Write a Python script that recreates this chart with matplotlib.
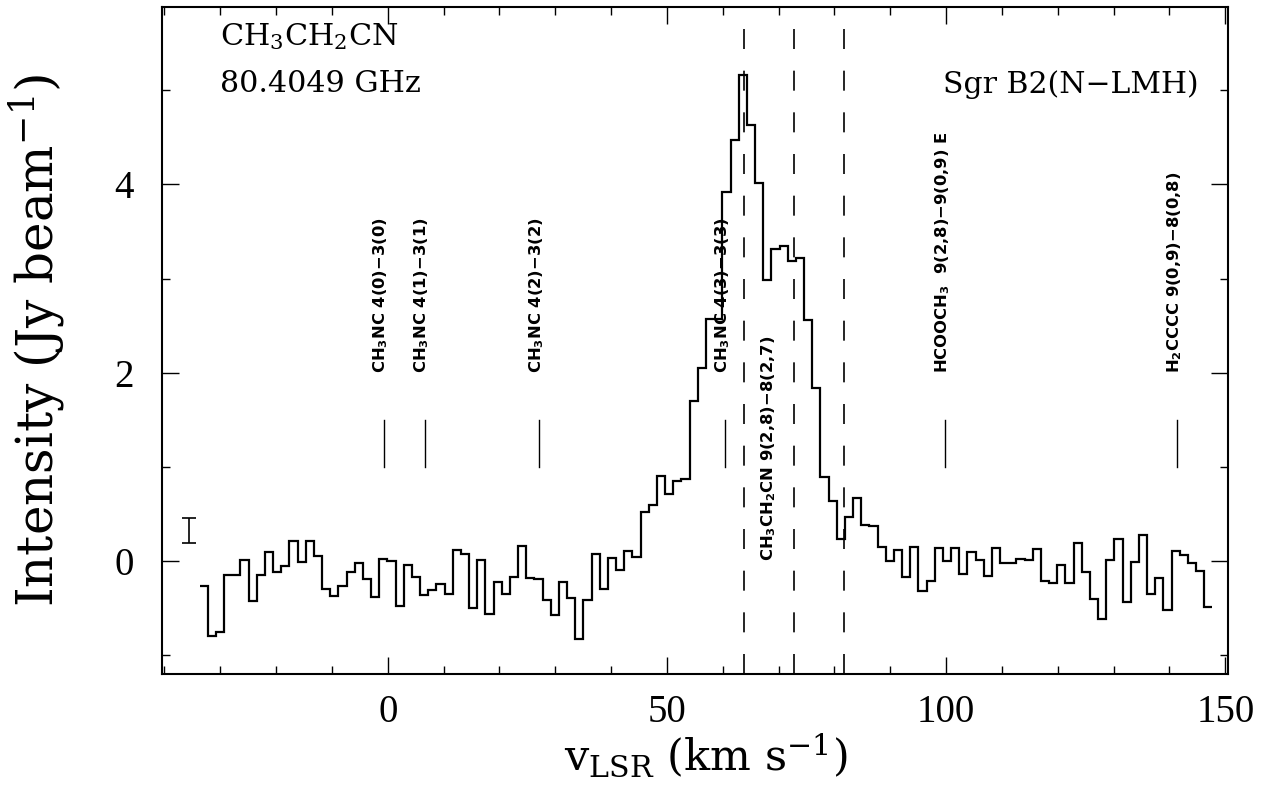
import numpy as np
import matplotlib
matplotlib.use('Agg')
import matplotlib.pyplot as plt
from matplotlib.ticker import MultipleLocator

plt.rcParams['font.family'] = ['DejaVu Serif']
plt.rcParams['mathtext.fontset'] = 'custom'
plt.rcParams['mathtext.rm'] = 'DejaVu Serif'
plt.rcParams['mathtext.it'] = 'DejaVu Serif:italic'
plt.rcParams['mathtext.bf'] = 'DejaVu Sans:bold'

# channel grid (km/s)
v_start = -33.7
dv = 1.463
intensity = [
    -0.265, -0.795, -0.75, -0.15, -0.15, 0.014, -0.417, -0.15, 0.10, -0.11,
    -0.046, 0.22, -0.007, 0.22, 0.053, -0.29, -0.37, -0.265, -0.11, -0.02,
    -0.19, -0.38, 0.025, 0.0, -0.48, -0.035, -0.17, -0.36, -0.30, -0.24,
    -0.35, 0.117, 0.08, -0.50, 0.018, -0.56, -0.22, -0.35, -0.17, 0.16,
    -0.18, -0.19, -0.41, -0.57, -0.22, -0.39, -0.82, -0.41, 0.08, -0.29,
    0.035, -0.09, 0.11, 0.046, 0.52, 0.60, 0.91, 0.71, 0.85, 0.87,
    1.70, 2.05, 2.57, 2.57, 3.92, 4.47, 5.16, 4.63, 4.01, 2.99,
    3.31, 3.35, 3.19, 3.22, 2.56, 1.84, 0.89, 0.64, 0.237, 0.467,
    0.67, 0.39, 0.37, 0.148, 0.007, 0.117, -0.17, 0.152, -0.318, -0.212,
    0.141, 0.007, 0.141, -0.134, 0.095, 0.018, -0.16, 0.141, -0.02, -0.02,
    0.02, 0.01, 0.134, -0.21, -0.226, -0.04, -0.226, 0.19, -0.113, -0.40,
    -0.615, 0.01, 0.233, -0.43, -0.007, 0.275, -0.343, -0.173, -0.516, 0.11,
    0.064, -0.02, -0.10, -0.49,
]
edges = v_start + dv * np.arange(len(intensity) + 1)

dashed_v = [63.8, 72.8, 81.8]

line_v = [-0.7, 6.6, 27.1, 60.4, 99.8, 141.4]
line_labels = [
    r'CH$_\mathbf{3}$NC 4(0)−3(0)',
    r'CH$_\mathbf{3}$NC 4(1)−3(1)',
    r'CH$_\mathbf{3}$NC 4(2)−3(2)',
    r'CH$_\mathbf{3}$NC 4(3)−3(3)',
    r'HCOOCH$_\mathbf{3}$  9(2,8)−9(0,9) E',
    r'H$_\mathbf{2}$CCCC 9(0,9)−8(0,8)',
]
main_label = r'CH$_\mathbf{3}$CH$_\mathbf{2}$CN 9(2,8)−8(2,7)'
main_label_v = 68.3

err_v = -35.5
err_center = 0.325
err_half = 0.135

fig = plt.figure(figsize=(12.73, 8.07), dpi=100)
ax = fig.add_axes([0.1269, 0.1644, 0.8378, 0.8266])

ax.stairs(intensity, edges, baseline=None, color='black', linewidth=1.6)

for v in dashed_v:
    ax.axvline(v, color='black', linewidth=1.2, linestyle=(0, (12, 13)))

for v, lab in zip(line_v, line_labels):
    ax.plot([v, v], [1.0, 1.5], color='black', linewidth=1.0)
    ax.text(v - 0.5, 2.0, lab, rotation=90, ha='center', va='bottom',
            family='DejaVu Sans', fontweight='bold', fontsize=11.8)

ax.text(main_label_v, 0.0, main_label, rotation=90, ha='center', va='bottom',
        family='DejaVu Sans', fontweight='bold', fontsize=11.8)

ax.errorbar([err_v], [err_center], yerr=[err_half], color='black',
            linewidth=1.2, capsize=5, capthick=1.2, fmt='none')

ax.text(0.0549, 0.9435, r'CH$_\mathrm{3}$CH$_\mathrm{2}$CN', transform=ax.transAxes,
        fontsize=21.8, ha='left', va='baseline')
ax.text(0.0549, 0.8733, '80.4049 GHz', transform=ax.transAxes,
        fontsize=21.8, ha='left', va='baseline')
ax.text(0.9721, 0.871, 'Sgr B2(N−LMH)', transform=ax.transAxes,
        fontsize=21.5, ha='right', va='baseline')

ax.set_xlim(-40.5, 150.5)
ax.set_ylim(-1.2, 5.88)

ax.xaxis.set_major_locator(MultipleLocator(50))
ax.xaxis.set_minor_locator(MultipleLocator(10))
ax.yaxis.set_major_locator(MultipleLocator(2))
ax.yaxis.set_minor_locator(MultipleLocator(1))
ax.tick_params(which='both', direction='in', top=True, right=True, width=1.0)
ax.tick_params(which='major', length=12)
ax.tick_params(which='minor', length=6)
ax.tick_params(axis='x', which='major', pad=14)
ax.tick_params(axis='y', which='major', pad=20)
for lab in ax.get_xticklabels() + ax.get_yticklabels():
    lab.set_family('Liberation Serif')
    lab.set_fontsize(28)
for s in ax.spines.values():
    s.set_linewidth(1.5)

ax.set_xlabel(r'v$_\mathrm{LSR}$ (km s$^{-1}$)', fontsize=31)
ax.set_ylabel(r'Intensity (Jy beam$^{-1}$)', fontsize=36)
ax.xaxis.set_label_coords(0.51, -0.085)
ax.yaxis.set_label_coords(-0.089, 0.5)

fig.savefig('out.png', dpi=100)
